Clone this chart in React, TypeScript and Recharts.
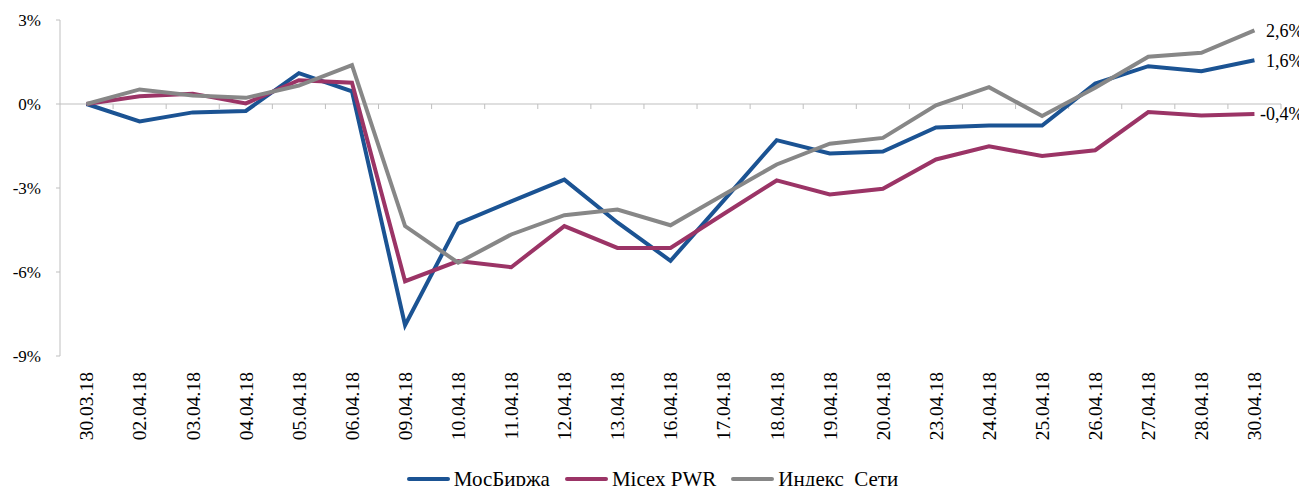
import React from 'react';
import { LineChart, Line, XAxis, YAxis, ReferenceLine, Legend, LabelList } from 'recharts';

const dates = [
  '30.03.18', '02.04.18', '03.04.18', '04.04.18', '05.04.18', '06.04.18', '09.04.18', '10.04.18',
  '11.04.18', '12.04.18', '13.04.18', '16.04.18', '17.04.18', '18.04.18', '19.04.18', '20.04.18',
  '23.04.18', '24.04.18', '25.04.18', '26.04.18', '27.04.18', '28.04.18', '30.04.18',
];

const mosBirzha = [
  0, -0.62, -0.3, -0.25, 1.1, 0.45, -7.9, -4.27, -3.48, -2.7, -4.23, -5.6,
  -3.45, -1.29, -1.77, -1.7, -0.84, -0.77, -0.77, 0.73, 1.35, 1.17, 1.56,
];
const micexPwr = [
  0, 0.28, 0.37, 0.02, 0.85, 0.76, -6.33, -5.61, -5.83, -4.36, -5.14, -5.14,
  -3.93, -2.73, -3.23, -3.03, -1.98, -1.51, -1.86, -1.65, -0.29, -0.41, -0.36,
];
const indexSeti = [
  0, 0.52, 0.3, 0.22, 0.66, 1.39, -4.36, -5.67, -4.66, -3.97, -3.77, -4.33,
  -3.24, -2.16, -1.42, -1.21, -0.05, 0.6, -0.43, 0.58, 1.69, 1.83, 2.63,
];

const yTicks = [-9, -6, -3, 0, 3];

const SERIES = [
  { key: 'mos', name: 'МосБиржа', color: '#1B5393' },
  { key: 'micex', name: 'Micex PWR', color: '#9B3466' },
  { key: 'seti', name: 'Индекс  Сети', color: '#878787' },
];

const data = dates.map((d, i) => ({
  date: d,
  mos: mosBirzha[i],
  micex: micexPwr[i],
  seti: indexSeti[i],
}));

const FONT = '"Liberation Serif", "Times New Roman", serif';

const DateTick = ({ x, y, payload }: any) => (
  <text
    x={0}
    y={0}
    transform={`translate(${x},${y + 14}) rotate(-90)`}
    textAnchor="end"
    dy="0.35em"
    fontSize={19.5}
    fontFamily={FONT}
    fill="#000"
  >
    {payload.value}
  </text>
);

// zero line with small tick marks between the categories
const ZeroLine = ({ x1, y1, x2, y2 }: any) => {
  const step = (x2 - x1) / dates.length;
  return (
    <g>
      <line x1={x1} y1={y1} x2={x2} y2={y2} stroke="#BFBFBF" strokeWidth={1} />
      {dates.map((_, i) => (
        <line
          key={i}
          x1={x1 + step * (i + 1)}
          x2={x1 + step * (i + 1)}
          y1={y1}
          y2={y1 + 5}
          stroke="#BFBFBF"
          strokeWidth={1}
        />
      ))}
    </g>
  );
};

const EndLabel = ({ x, y, value, index }: any) => {
  if (index !== dates.length - 1) return null;
  return (
    <text x={x + 49} y={y} dy="0.35em" textAnchor="end" fontSize={18} fontFamily={FONT} fill="#000">
      {`${value.toFixed(1).replace('.', ',')}%`}
    </text>
  );
};

const LegendContent = () => (
  <div
    style={{
      display: 'flex',
      justifyContent: 'center',
      alignItems: 'center',
      height: 22,
      lineHeight: '22px',
      fontFamily: FONT,
      fontSize: 21,
      color: '#000',
      paddingLeft: 24,
    }}
  >
    {SERIES.map((s, i) => (
      <div
        key={s.key}
        style={{ display: 'flex', alignItems: 'center', marginRight: i < SERIES.length - 1 ? 15 : 0 }}
      >
        <span
          style={{
            display: 'inline-block',
            width: 43,
            height: 4,
            borderRadius: 2,
            background: s.color,
            marginRight: 4,
          }}
        />
        <span style={{ whiteSpace: 'pre' }}>{s.name}</span>
      </div>
    ))}
  </div>
);

export default function App() {
  return (
    <div style={{ width: 1307, height: 494, margin: -8, background: '#fff' }}>
      <LineChart
        width={1307}
        height={494}
        data={data}
        margin={{ top: 20, right: 26, left: 0, bottom: 4 }}
      >
        <XAxis
          dataKey="date"
          scale="band"
          axisLine={false}
          tickLine={false}
          tickSize={0}
          interval={0}
          height={112}
          tick={<DateTick />}
        />
        <YAxis
          domain={[-9, 3]}
          ticks={yTicks}
          width={60}
          stroke="#BFBFBF"
          tickSize={4}
          tickMargin={15}
          tickFormatter={(v: number) => `${v}%`}
          tick={{ fill: '#000', fontSize: 17, fontFamily: FONT }}
          allowDataOverflow
        />
        <ReferenceLine y={0} shape={<ZeroLine />} ifOverflow="extendDomain" />
        {SERIES.map((s) => (
          <Line
            key={s.key}
            type="linear"
            dataKey={s.key}
            name={s.name}
            stroke={s.color}
            strokeWidth={4}
            dot={false}
            activeDot={false}
            isAnimationActive={false}
          >
            <LabelList dataKey={s.key} content={<EndLabel />} />
          </Line>
        ))}
        <Legend verticalAlign="bottom" content={<LegendContent />} />
      </LineChart>
    </div>
  );
}
